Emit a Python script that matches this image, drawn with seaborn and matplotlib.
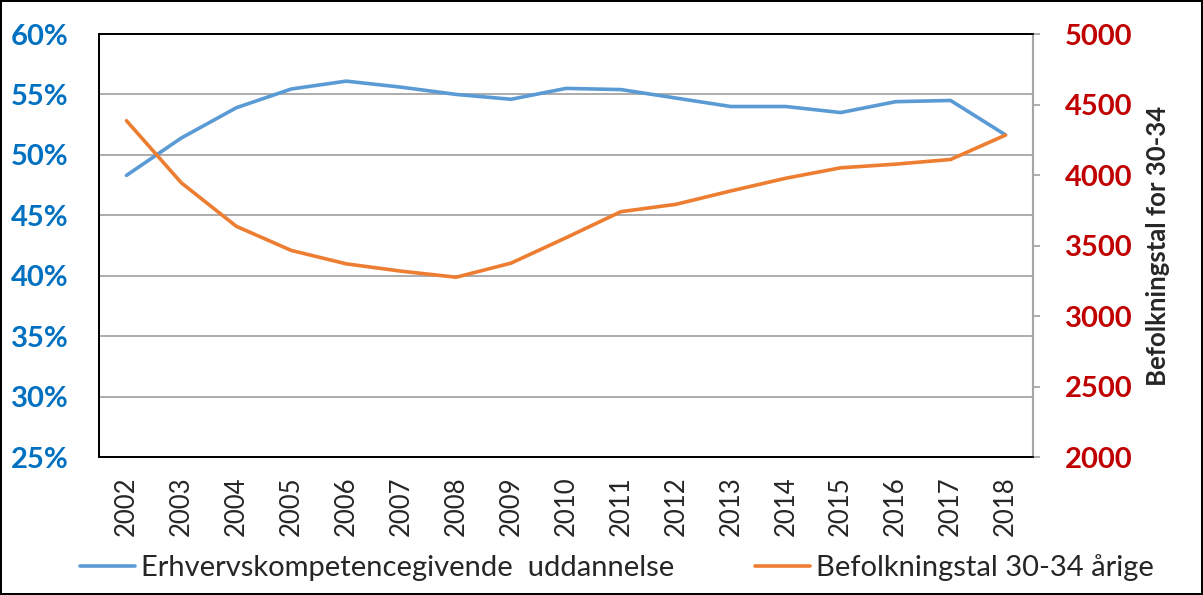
import seaborn as sns
import pandas as pd
import matplotlib.pyplot as plt
from matplotlib.ticker import FuncFormatter

years = [str(y) for y in range(2002, 2019)]
uddannelse = [48.3, 51.4, 53.9, 55.45, 56.1, 55.6, 55.0, 54.6, 55.5, 55.4,
              54.7, 54.0, 54.0, 53.5, 54.4, 54.5, 51.65]
befolkning = [4385, 3944, 3636, 3465, 3370, 3318, 3275, 3375, 3555, 3740,
              3792, 3887, 3977, 4051, 4077, 4110, 4283]

label_blue = 'Erhvervskompetencegivende  uddannelse'
label_orange = 'Befolkningstal 30-34 årige'

df = pd.DataFrame({'year': years, 'pct': uddannelse, 'pop': befolkning})

sns.set_style('white')
plt.rcParams['font.family'] = ['Lato', 'DejaVu Sans']

fig = plt.figure(figsize=(12.03, 5.95), dpi=100)
fig.patch.set_edgecolor('black')
fig.patch.set_linewidth(1.5)
ax = fig.add_axes([99/1203, 1-457/595, (1033-99)/1203, (457-34)/595])
ax2 = ax.twinx()

blue = '#5B9BD5'
orange = '#ED7D31'

sns.lineplot(data=df, x='year', y='pct', ax=ax, color=blue, linewidth=2.6,
             label=label_blue, legend=False)
sns.lineplot(data=df, x='year', y='pop', ax=ax2, color=orange, linewidth=2.6,
             label=label_orange, legend=False)

ax.set_xlim(-0.5, 16.5)
ax.set_ylim(25, 60)
ax.set_yticks(range(25, 61, 5))
ax.yaxis.set_major_formatter(FuncFormatter(lambda v, p: f'{int(v)}%'))
ax.yaxis.grid(True, color='#A6A6A6', linewidth=1.3)
ax.set_axisbelow(True)
ax.set_xlabel('')
ax.set_ylabel('')
ax.tick_params(axis='y', length=0, pad=22, labelsize=21, labelcolor='#0070C0')
for t in ax.get_yticklabels():
    t.set_fontweight('bold')
ax.tick_params(axis='x', length=0, pad=14, labelsize=18.5, rotation=90)

ax2.set_ylim(2000, 5000)
ax2.set_yticks(range(2000, 5001, 500))
ax2.set_ylabel('Befolkningstal for 30-34', fontsize=18.5, fontweight='bold',
               labelpad=10)
ax2.tick_params(axis='y', length=5, width=1.3, color='#A6A6A6', pad=18,
                labelsize=21, labelcolor='#C00000')
for t in ax2.get_yticklabels():
    t.set_fontweight('bold')

for a in (ax, ax2):
    for s in ('left', 'top', 'bottom'):
        a.spines[s].set_color('black')
        a.spines[s].set_linewidth(1.3)
    a.spines['right'].set_color('#A6A6A6')
    a.spines['right'].set_linewidth(1.5)

h1, l1 = ax.get_legend_handles_labels()
h2, l2 = ax2.get_legend_handles_labels()
fig.legend(h1 + h2, l1 + l2, loc='center', bbox_to_anchor=(617/1203, 1-568/595),
           ncol=2, frameon=False, fontsize=21, handlelength=1.9,
           handletextpad=0.2, columnspacing=2.75)

fig.savefig('out.png', dpi=100, edgecolor=fig.get_edgecolor())
